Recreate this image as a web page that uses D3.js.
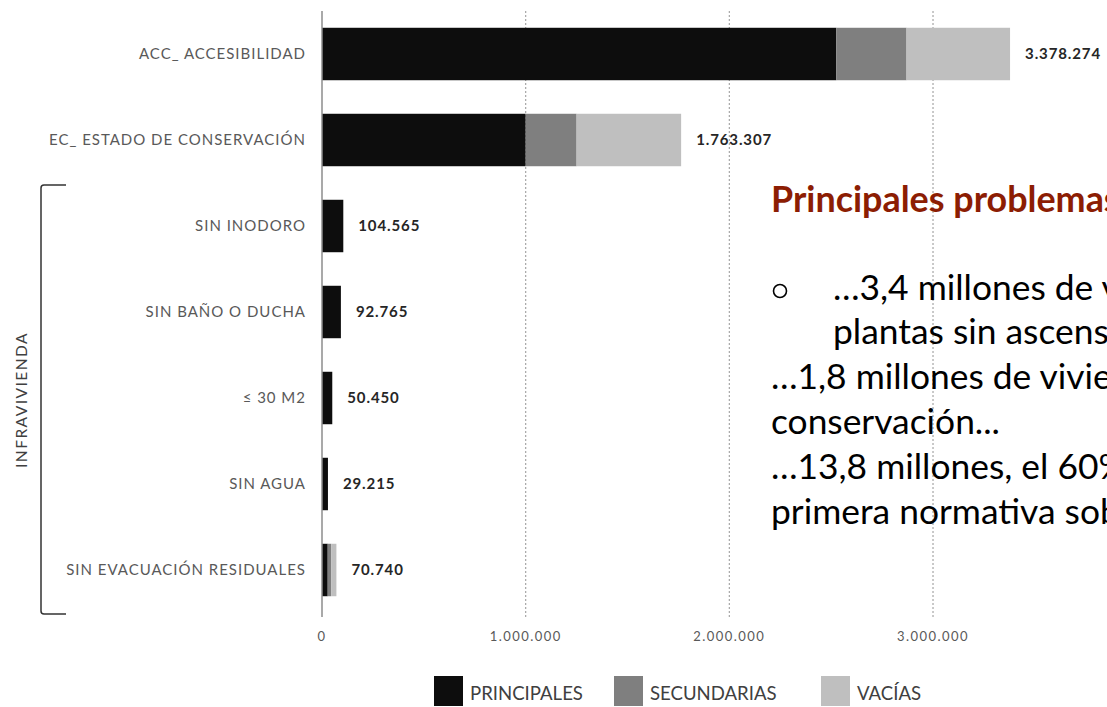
<!DOCTYPE html>
<html>
<head>
<meta charset="utf-8">
<script src="https://cdn.jsdelivr.net/npm/d3@7"></script>
<style>
  html, body { margin: 0; padding: 0; background: #fff; overflow: hidden; }
  svg { display: block; font-family: Lato, "Open Sans", sans-serif; }
</style>
</head>
<body>
<svg id="chart" width="1107" height="707"></svg>
<script>
// ---- data ----
const categories = ["ACC_ ACCESIBILIDAD", "EC_ ESTADO DE CONSERVACIÓN", "SIN INODORO", "SIN BAÑO O DUCHA", "≤ 30 M2", "SIN AGUA", "SIN EVACUACIÓN RESIDUALES"];
const principales = [2525000, 1000000, 104565, 92765, 50450, 29215, 28000];
const secundarias = [345000, 250000, 0, 0, 0, 0, 17000];
const vacias = [508274, 513307, 0, 0, 0, 0, 25740];
const totals = [3378274, 1763307, 104565, 92765, 50450, 29215, 70740];
const seriesNames = ["PRINCIPALES", "SECUNDARIAS", "VACÍAS"];
const xTicks = [0, 1000000, 2000000, 3000000];
const groupLabel = "INFRAVIVIENDA";
const titleText = "Principales problemas del";
const bulletLines = [
  { bullet: true, indent: true, text: "…3,4 millones de viviendas" },
  { bullet: false, indent: true, text: "plantas sin ascensor..." },
  { bullet: false, indent: false, text: "…1,8 millones de viviendas" },
  { bullet: false, indent: false, text: "conservación..." },
  { bullet: false, indent: false, text: "…13,8 millones, el 60%," },
  { bullet: false, indent: false, text: "primera normativa sobre" }
];

const colors = ["#0d0d0d", "#7f7f7f", "#bfbfbf"];

const svg = d3.select("#chart");

const loc = d3.formatLocale({ decimal: ",", thousands: ".", grouping: [3], currency: ["", "€"] });
const fmt = loc.format(",");

// scales
const x0 = 322, xPerMillion = 203.67;
const x = d3.scaleLinear().domain([0, 3500000]).range([x0, x0 + 3.5 * xPerMillion]);
const y = d3.scaleBand().domain(categories).range([11, 613]).paddingInner(0.39).paddingOuter(0.195);

// stacked data
const rows = categories.map((c, i) => ({ cat: c, PRINCIPALES: principales[i], SECUNDARIAS: secundarias[i], "VACÍAS": vacias[i] }));
const stack = d3.stack().keys(seriesNames)(rows);

// gridlines (dotted)
const yTop = 11, yBot = 617;
svg.append("g").selectAll("line").data(xTicks.filter(d => d > 0)).join("line")
  .attr("x1", d => x(d)).attr("x2", d => x(d))
  .attr("y1", yTop).attr("y2", yBot)
  .attr("stroke", "#a6a6a6").attr("stroke-width", 1.2).attr("stroke-dasharray", "2,2");

// overlay text
const ov = svg.append("g");
const tmp = svg.append("text").attr("font-family", "Lato").attr("font-size", 100).text("conservación...");
const regSize = 100 * 229 / tmp.node().getComputedTextLength();
tmp.attr("font-weight", 700).text("Principales problema");
const boldSize = 100 * 333 / tmp.node().getComputedTextLength();
tmp.remove();

const txLeft = 771, txIndent = 833;
ov.append("text").attr("x", txLeft).attr("y", 212)
  .attr("font-weight", 700).attr("font-size", boldSize).attr("fill", "#8c1d03").text(titleText);
const lineY = [300, 344, 389, 434, 479, 524];
bulletLines.forEach((l, i) => {
  if (l.bullet) {
    ov.append("circle").attr("cx", txLeft + 9).attr("cy", lineY[i] - 9).attr("r", 6.5)
      .attr("fill", "none").attr("stroke", "#000").attr("stroke-width", 1.6);
  }
  ov.append("text").attr("x", l.indent ? txIndent : txLeft).attr("y", lineY[i])
    .attr("font-size", regSize).attr("fill", "#000").text(l.text);
});

// bars
svg.append("g").selectAll("g").data(stack).join("g")
  .attr("fill", (d, i) => colors[i])
  .selectAll("rect").data(d => d).join("rect")
  .attr("x", d => x(d[0]))
  .attr("width", d => Math.max(0, x(d[1]) - x(d[0])))
  .attr("y", d => y(d.data.cat))
  .attr("height", y.bandwidth());

// vertical axis line
svg.append("line").attr("x1", x(0)).attr("x2", x(0)).attr("y1", yTop).attr("y2", yBot)
  .attr("stroke", "#8c8c8c").attr("stroke-width", 1.5);

// category labels
const catG = svg.append("g").selectAll("text").data(categories).join("text")
  .attr("x", 305).attr("y", d => y(d) + y.bandwidth() / 2).attr("dy", "0.36em")
  .attr("text-anchor", "end").attr("font-size", 15).attr("fill", "#595959").text(d => d);
{
  const w = catG.filter((d, i) => i === 1).node().getComputedTextLength();
  const ls = Math.max(0, (257 - w) / categories[1].length);
  catG.attr("letter-spacing", ls).attr("x", 305 + ls);
}

// value labels
const vl = svg.append("g").selectAll("text").data(totals).join("text")
  .attr("x", d => x(d) + 15).attr("y", (d, i) => y(categories[i]) + y.bandwidth() / 2).attr("dy", "0.36em")
  .attr("font-weight", 700).attr("font-size", 15).attr("fill", "#262626")
  .text(d => fmt(d));
{
  const w = vl.filter((d, i) => i === 0).node().getComputedTextLength();
  vl.attr("letter-spacing", Math.max(0, (76 - w) / 9));
}

// tick labels
const tl = svg.append("g").selectAll("text").data(xTicks).join("text")
  .attr("x", d => x(d)).attr("y", 641).attr("text-anchor", "middle")
  .attr("font-size", 13).attr("fill", "#595959").text(d => fmt(d));
{
  const w = tl.filter((d, i) => i === 1).node().getComputedTextLength();
  tl.attr("letter-spacing", Math.max(0, (72 - w) / 9));
}

// bracket for infravivienda
const bx = 41, bTop = 185, bBot = 614;
svg.append("path")
  .attr("d", `M66,${bTop} L${bx + 3},${bTop} Q${bx},${bTop} ${bx},${bTop + 3} L${bx},${bBot - 3} Q${bx},${bBot} ${bx + 3},${bBot} L66,${bBot}`)
  .attr("fill", "none").attr("stroke", "#333").attr("stroke-width", 1.5);
const gl = svg.append("text").attr("transform", "translate(26.5,400) rotate(-90)")
  .attr("text-anchor", "middle").attr("font-size", 15.5).attr("fill", "#404040").text(groupLabel);
{
  const w = gl.node().getComputedTextLength();
  gl.attr("letter-spacing", Math.max(0, (136 - w) / groupLabel.length));
}

// legend
const lg = svg.append("g");
const tmp2 = svg.append("text").attr("font-size", 100).text(seriesNames[0]);
const legSize = 100 * 113 / tmp2.node().getComputedTextLength();
tmp2.remove();
const legendSlots = d3.scaleOrdinal().domain(seriesNames).range([434, 614, 821]);
seriesNames.forEach((s, i) => {
  const lx = legendSlots(s);
  lg.append("rect").attr("x", lx).attr("y", 676).attr("width", 29).attr("height", 30).attr("fill", colors[i]);
  lg.append("text").attr("x", lx + 36).attr("y", 700).attr("font-size", legSize).attr("fill", "#404040").text(s);
});
</script>
</body>
</html>
